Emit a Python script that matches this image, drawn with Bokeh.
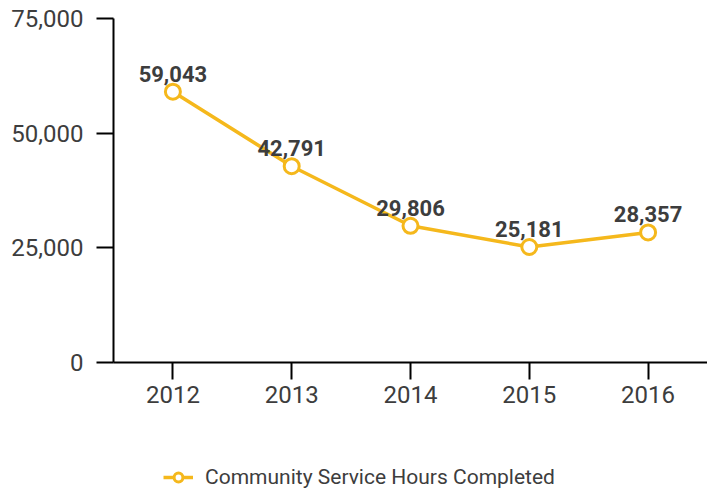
from bokeh.plotting import figure
from bokeh.layouts import column
from bokeh.models import Range1d, FixedTicker, ColumnDataSource, Legend, LegendItem, NumeralTickFormatter, LabelSet
from bokeh.core.properties import value
from bokeh.embed import file_html
from bokeh.resources import INLINE

years = ["2012", "2013", "2014", "2015", "2016"]
hours = [59043, 42791, 29806, 25181, 28357]
series_name = "Community Service Hours Completed"
y_ticks = [0, 25000, 50000, 75000]

COLOR = "#F5B81C"
TEXT = "#3d3d3d"
FONT = "Roboto"

idx = list(range(len(years)))
src = ColumnDataSource(dict(x=idx, y=hours, lab=[f"{v:,}" for v in hours]))

p = figure(width=707, height=440, output_backend="svg", toolbar_location=None,
           x_range=Range1d(-0.5, 4.5), y_range=Range1d(0, 75000),
           min_border_left=113, min_border_right=0, min_border_top=18, min_border_bottom=78)
p.outline_line_color = None
p.xgrid.visible = False
p.ygrid.visible = False

ln = p.line("x", "y", source=src, line_color=COLOR, line_width=3.5)
sc = p.scatter("x", "y", source=src, size=15, line_color=COLOR, line_width=3, fill_color="white")

labels = LabelSet(x="x", y="y", text="lab", source=src, text_align="center", text_baseline="bottom",
                  y_offset=10, text_font=value(FONT), text_font_style="bold", text_font_size="22px",
                  text_color=TEXT)
p.add_layout(labels)

p.xaxis.ticker = FixedTicker(ticks=idx)
p.xaxis.major_label_overrides = {i: y for i, y in zip(idx, years)}
p.yaxis.ticker = FixedTicker(ticks=y_ticks)
p.yaxis.formatter = NumeralTickFormatter(format="0,0")
for ax in (p.xaxis, p.yaxis):
    ax.axis_line_color = "black"
    ax.axis_line_width = 2
    ax.major_tick_line_color = "black"
    ax.major_tick_line_width = 2
    ax.major_tick_out = 17
    ax.major_tick_in = 0
    ax.minor_tick_line_color = None
    ax.major_label_text_font = FONT
    ax.major_label_text_font_size = "24px"
    ax.major_label_text_color = TEXT
p.xaxis.major_label_standoff = 6
p.yaxis.major_label_standoff = 13

# legend strip below the chart (series drawn out of view; only its legend entry shows)
lg = figure(width=707, height=49, output_backend="svg", toolbar_location=None,
            x_axis_type=None, y_axis_type=None, min_border=0,
            x_range=Range1d(0, 1), y_range=Range1d(0, 1))
lg.outline_line_color = None
lg.xgrid.visible = False
lg.ygrid.visible = False
lln = lg.line("x", "y", source=src, line_color=COLOR, line_width=3.5)
lsc = lg.scatter("x", "y", source=src, size=15, line_color=COLOR, line_width=3, fill_color="white")
legend = Legend(items=[LegendItem(label=series_name, renderers=[lln, lsc])],
                location=(50, 0), orientation="horizontal", padding=2, margin=0, label_standoff=12,
                label_text_font=FONT, label_text_font_size="21px", label_text_color=TEXT,
                glyph_width=30, glyph_height=22, border_line_color=None, background_fill_alpha=0)
lg.add_layout(legend, "center")

layout = column(p, lg, spacing=0)
open("out.html", "w").write(file_html(layout, INLINE))
